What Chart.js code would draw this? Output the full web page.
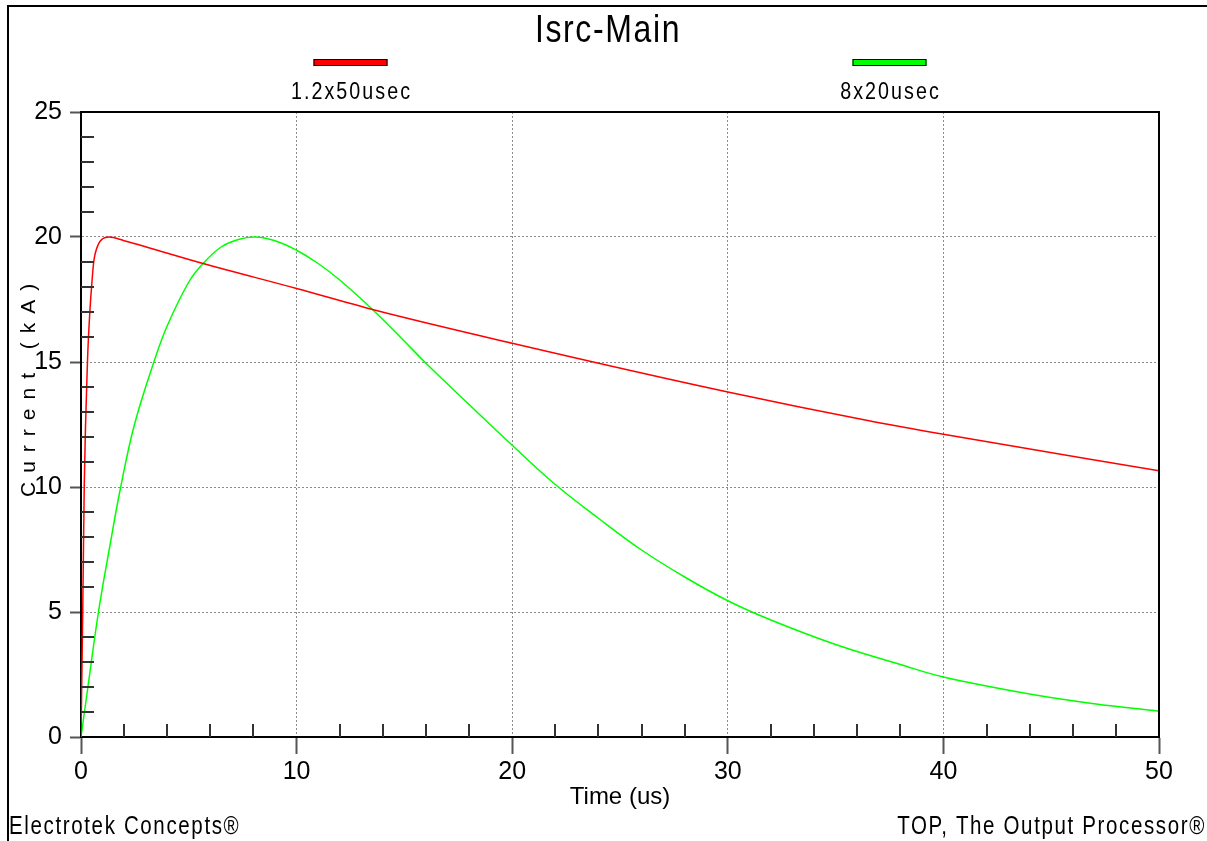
<!DOCTYPE html>
<html>
<head>
<meta charset="utf-8">
<title>Isrc-Main</title>
<script src="https://cdn.jsdelivr.net/npm/chart.js@4.4.1/dist/chart.umd.min.js"></script>
<style>
  html, body { margin: 0; padding: 0; background: #fff; }
  #wrap { width: 1207px; height: 841px; }
</style>
</head>
<body>
<div id="wrap"><canvas id="isrcChart" width="1207" height="841"></canvas></div>
<script>
const FONT = "'Liberation Sans Narrow', 'Arial Narrow', 'Liberation Sans', Arial, sans-serif";
const NARROW = 0.82; // squeeze for the hand drawn labels, no narrow face installed

const chartTitle = "Isrc-Main";
const xAxisTitle = "Time (us)";
const yAxisTitle = "Current (kA)";
const footerLeft = "Electrotek Concepts®";
const footerRight = "TOP, The Output Processor®";

const seriesNames = ["1.2x50usec", "8x20usec"];
const seriesColors = ["#ff0000", "#00ff00"];

// axis ranges / ticks
const xRange = [0, 50];
const yRange = [0, 25];
const xMajorStep = 10, xMinorStep = 2;
const yMajorStep = 5, yMinorStep = 1;

// 1.2x50 usec wave: time (us) and current (kA)
const wave1Time = [0, 0.08, 0.15, 0.3, 0.41, 0.49, 0.59, 0.8, 1.0, 1.3, 2, 5.66, 10, 13.52, 20, 30, 36.43, 40, 50];
const wave1Amps = [0, 5, 10, 15, 17, 18, 19, 19.7, 19.93, 20, 19.85, 18.94, 17.94, 17.1, 15.75, 13.8, 12.67, 12.11, 10.65];

// 8x20 usec wave
const wave2Time = [0, 0.32, 0.81, 1.32, 1.83, 2.48, 3.38, 4, 5, 5.66, 6.5, 7.3, 8.06, 9, 10, 11, 12, 13.52, 15, 16,
  18, 20, 22, 24, 26, 28, 30, 32, 35, 38, 40, 44, 47, 50];
const wave2Amps = [0, 2, 5, 7.55, 9.95, 12.5, 15, 16.45, 18.2, 18.94, 19.6, 19.9, 20, 19.85, 19.47, 18.94, 18.28, 17.1, 15.83, 14.95,
  13.3, 11.67, 10.1, 8.75, 7.48, 6.4, 5.45, 4.68, 3.7, 2.9, 2.4, 1.72, 1.33, 1.03];

const toPoints = (xs, ys) => xs.map((t, i) => ({ x: t, y: ys[i] }));

// text squeezed sideways to look like the narrow face of the original
function narrowText(ctx, text, x, y, size, spacing, align, baseline) {
  ctx.save();
  ctx.translate(x, y);
  ctx.scale(NARROW, 1);
  ctx.font = `${size}px ${FONT}`;
  ctx.letterSpacing = spacing + "px";
  ctx.textAlign = align;
  ctx.textBaseline = baseline;
  ctx.fillText(text, 0, 0);
  ctx.restore();
}

// draws the bits Chart.js has no option for: frame, box, minor ticks, legend, labels
const plotDecor = {
  id: "plotDecor",
  afterDraw(chart) {
    const { ctx, chartArea: a, scales } = chart;
    const xs = scales.x, ys = scales.y;
    ctx.save();

    // top + right edge of plot box
    ctx.strokeStyle = "#000";
    ctx.lineWidth = 2;
    ctx.beginPath();
    ctx.moveTo(a.left, a.top);
    ctx.lineTo(a.right, a.top);
    ctx.lineTo(a.right, a.bottom);
    ctx.stroke();

    // minor ticks, pointing into the plot
    ctx.strokeStyle = "#333";
    ctx.lineWidth = 2;
    ctx.beginPath();
    for (let v = yRange[0] + yMinorStep; v < yRange[1]; v += yMinorStep) {
      if (v % yMajorStep === 0) continue;
      const py = Math.round(ys.getPixelForValue(v));
      ctx.moveTo(a.left, py);
      ctx.lineTo(a.left + 13, py);
    }
    for (let v = xRange[0] + xMinorStep; v < xRange[1]; v += xMinorStep) {
      if (v % xMajorStep === 0) continue;
      const px = Math.round(xs.getPixelForValue(v));
      ctx.moveTo(px, a.bottom);
      ctx.lineTo(px, a.bottom - 13);
    }
    ctx.stroke();

    // outer page frame
    ctx.strokeStyle = "#000";
    ctx.lineWidth = 2;
    ctx.beginPath();
    ctx.moveTo(8, chart.height);
    ctx.lineTo(8, 6);
    ctx.lineTo(chart.width, 6);
    ctx.stroke();

    ctx.fillStyle = "#000";
    narrowText(ctx, chartTitle, 608, 42, 39, 2, "center", "alphabetic");

    // legend: bar over label, at 1/4 and 3/4 of the plot width
    chart.data.datasets.forEach((ds, i) => {
      const cx = a.left + (a.width * (2 * i + 1)) / 4;
      ctx.fillStyle = ds.borderColor;
      ctx.fillRect(cx - 37, 59, 74, 7);
      ctx.strokeStyle = "#000";
      ctx.lineWidth = 1;
      ctx.strokeRect(cx - 37 + 0.5, 59.5, 73, 6);
      ctx.fillStyle = "#000";
      narrowText(ctx, ds.label, cx + 1, 92, 24, 2.5, "center", "middle");
    });

    // y axis title, reads bottom to top
    ctx.save();
    ctx.translate(35, 497);
    ctx.rotate(-Math.PI / 2);
    ctx.font = `21px ${FONT}`;
    ctx.letterSpacing = "9px";
    ctx.textAlign = "left";
    ctx.textBaseline = "alphabetic";
    ctx.fillText(yAxisTitle, 0, 0);
    ctx.restore();

    // footers
    narrowText(ctx, footerLeft, 9, 834, 25, 2, "left", "alphabetic");
    narrowText(ctx, footerRight, 1206, 834, 25, 2, "right", "alphabetic");

    ctx.restore();
  }
};

const ctx = document.getElementById("isrcChart").getContext("2d");

new Chart(ctx, {
  type: "line",
  data: {
    datasets: [
      {
        label: seriesNames[0],
        data: toPoints(wave1Time, wave1Amps),
        borderColor: seriesColors[0],
        backgroundColor: seriesColors[0],
        borderWidth: 1.5,
        pointRadius: 0,
        fill: false,
        cubicInterpolationMode: "monotone"
      },
      {
        label: seriesNames[1],
        data: toPoints(wave2Time, wave2Amps),
        borderColor: seriesColors[1],
        backgroundColor: seriesColors[1],
        borderWidth: 1.5,
        pointRadius: 0,
        fill: false,
        tension: 0.4
      }
    ]
  },
  options: {
    responsive: false,
    animation: false,
    devicePixelRatio: 1,
    layout: { padding: { left: 1, top: 112, right: 48, bottom: 24 } },
    plugins: {
      legend: { display: false },
      title: { display: false },
      tooltip: { enabled: false }
    },
    scales: {
      x: {
        type: "linear",
        min: xRange[0],
        max: xRange[1],
        afterFit: (s) => { s.height = 80; },
        ticks: {
          stepSize: xMajorStep,
          color: "#000",
          padding: 3,
          maxRotation: 0,
          font: { family: FONT, size: 25 }
        },
        grid: {
          color: "#8a8a8a",
          lineWidth: 1,
          tickLength: 17,
          tickColor: "#555",
          tickWidth: 2
        },
        border: { display: true, color: "#000", width: 2, dash: [2, 2] },
        title: {
          display: true,
          text: xAxisTitle,
          color: "#000",
          font: { family: FONT, size: 24 },
          padding: { top: 0, bottom: 5 }
        }
      },
      y: {
        type: "linear",
        min: yRange[0],
        max: yRange[1],
        afterFit: (s) => { s.width = 80; },
        ticks: {
          stepSize: yMajorStep,
          color: "#000",
          padding: 8,
          font: { family: FONT, size: 25 }
        },
        grid: {
          color: "#8a8a8a",
          lineWidth: 1,
          tickLength: 11,
          tickColor: "#555",
          tickWidth: 2
        },
        border: { display: true, color: "#000", width: 2, dash: [2, 2] }
      }
    }
  },
  plugins: [plotDecor]
});
</script>
</body>
</html>
